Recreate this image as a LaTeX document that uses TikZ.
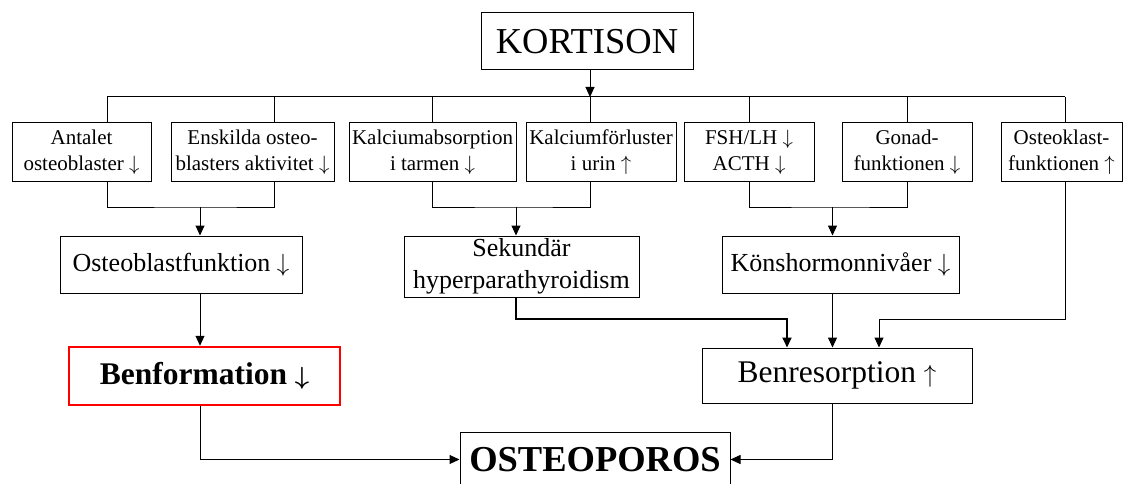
\documentclass[tikz,border=0pt]{standalone}
\usepackage{fontspec}
\setmainfont{Liberation Serif}
\usetikzlibrary{calc,arrows.meta,positioning}
\newcommand{\dn}{$\downarrow$}
\newcommand{\up}{$\uparrow$}

\begin{document}
\begin{tikzpicture}[x=1pt,y=-1pt,line width=1pt]

\tikzset{box/.style={draw,line width=1pt,align=center,inner sep=2pt},
smallbox/.style={box,font=\fontsize{21}{26}\selectfont,minimum height=58pt},
midbox/.style={box,font=\fontsize{26}{32}\selectfont,minimum height=57pt},
arr/.style={-{Triangle[length=10pt,width=9pt]}}}

\useasboundingbox (0,0) rectangle (1124,484);
\clip (0,0) rectangle (1124,484);

% top node
\node[box,font=\fontsize{36.5}{40}\selectfont,minimum width=212pt,minimum height=57pt] (kort) at (587,41.5) {KORTISON};

% bus columns
\foreach \i/\x in {1/107,2/274,3/432,4/590,5/749,6/907,7/1065} \coordinate (c\i) at (\x,97);
\draw[arr] (kort.south -| c4) -- (c4);
\draw (c1) -- (c7);

% effects of the drug
\node[smallbox,minimum width=139pt] (a1) at (81.5,152) {Antalet\\osteoblaster \dn};
\node[smallbox,minimum width=163pt] (a2) at (252.5,152) {Enskilda osteo-\\blasters aktivitet \dn};
\node[smallbox,minimum width=167pt] (a3) at (432.5,152) {Kalciumabsorption\\i tarmen \dn};
\node[smallbox,minimum width=150pt] (a4) at (601,152) {Kalciumförluster\\i urin \up};
\node[smallbox,minimum width=130pt] (a5) at (749,152) {FSH/LH \dn\\ACTH \dn};
\node[smallbox,minimum width=130pt] (a6) at (907,152) {Gonad-\\funktionen \dn};
\node[smallbox,minimum width=121pt] (a7) at (1061.5,152) {Osteoklast-\\funktionen \up};
\foreach \i in {1,...,7} \draw (c\i) -- (c\i |- a\i.north);

% middle nodes
\node[midbox,minimum width=242pt] (obf) at (181,264.5) {Osteoblastfunktion \dn};
\node[midbox,minimum width=235pt,minimum height=61pt] (sek) at (521.5,266.5) {Sekundär\\hyperparathyroidism};
\node[midbox,minimum width=237pt] (kon) at (840.5,264.5) {Könshormonnivåer \dn};

\coordinate (m1) at (200,207); \coordinate (m2) at (516,207); \coordinate (m3) at (832.5,207);
\draw (c1 |- a1.south) |- (m1) -| (c2 |- a2.south);
\draw (c3 |- a3.south) |- (m2) -| (c4 |- a4.south);
\draw (c5 |- a5.south) |- (m3) -| (c6 |- a6.south);
\draw[arr] (m1) -- (m1 |- obf.north);
\draw[arr] (m2) -- (m2 |- sek.north);
\draw[arr] (m3) -- (m3 |- kon.north);

% bone nodes
\node[box,draw=red,line width=2.5pt,font=\fontsize{31.5}{36}\selectfont\bfseries\boldmath,minimum width=271pt,minimum height=58pt] (benf) at (204.5,376) {Benformation \dn};
\node[box,font=\fontsize{31.5}{36}\selectfont,minimum width=270pt,minimum height=55pt] (benr) at (837,375.5) {Benresorption \up};
\node[box,font=\fontsize{36.5}{40}\selectfont\bfseries,minimum width=270pt,minimum height=55pt] (osteo) at (595,459.5) {OSTEOPOROS};

\coordinate (r1) at (787,319); \coordinate (r3) at (879,319);
\draw[arr] (obf.south -| m1) -- (m1 |- benf.north);
\draw[arr,line width=2pt] (sek.south -| m2) |- (r1) -- (r1 |- benr.north);
\draw[arr] (kon.south -| m3) -- (m3 |- benr.north);
\draw[arr] (c7 |- a7.south) |- (r3) -- (r3 |- benr.north);
\draw[arr] (benf.south -| m1) |- (osteo.west);
\draw[arr] (benr.south -| m3) |- (osteo.east);

\end{tikzpicture}
\end{document}
